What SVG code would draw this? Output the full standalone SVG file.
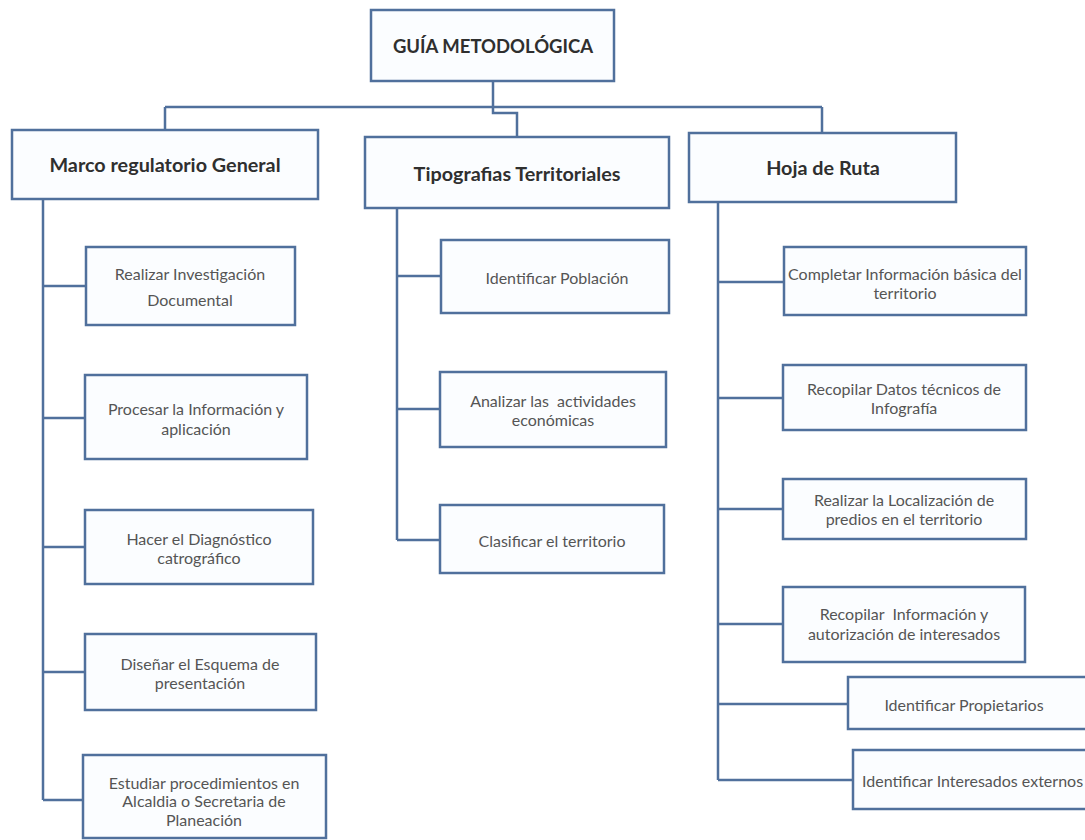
<svg xmlns="http://www.w3.org/2000/svg" width="1085" height="840" viewBox="0 0 1085 840">
  <style>
    .box { fill: #fbfdff; stroke: #50709c; stroke-width: 2.5; }
    .wire { fill: none; stroke: #50709c; stroke-width: 2.5; }
    .head { font-family: Lato, "Liberation Sans", sans-serif; font-weight: bold; font-size: 19.8px; fill: #2f2f2f; text-anchor: middle; dominant-baseline: central; }
    .title { font-size: 18.5px; }
    .item { font-family: Lato, "Liberation Sans", sans-serif; font-size: 16px; fill: #555; text-anchor: middle; dominant-baseline: central; white-space: pre; }
  </style>
  <rect width="1085" height="840" fill="#ffffff"/>

  <!-- connectors -->
  <g id="connectors" class="wire">
    <path d="M493 81 V107 M165 107 H822 M165 107 V130 M822 107 V133"/>
    <path d="M493 107 V113 H517 V137"/>
    <!-- Marco regulatorio General branch -->
    <path d="M43 199 V800 M43 286 H86 M43 418 H85 M43 547 H85 M43 672 H85 M43 800 H83"/>
    <!-- Tipografias Territoriales branch -->
    <path d="M397 208 V540 M397 276 H441 M397 409 H440 M397 540 H440"/>
    <!-- Hoja de Ruta branch -->
    <path d="M718 202 V780 M718 282 H784 M718 398 H783 M718 509 H783 M718 624 H783 M718 704 H848 M718 780 H853"/>
  </g>

  <g id="guia">
    <rect class="box" x="371" y="10" width="243" height="71"/>
    <text class="head title" x="493" y="46">GUÍA METODOLÓGICA</text>
  </g>

  <g id="marco">
    <rect class="box" x="12" y="130" width="306" height="69"/>
    <text class="head" x="165" y="164">Marco regulatorio General</text>
  </g>
  <g id="tipografias">
    <rect class="box" x="365" y="137" width="304" height="71"/>
    <text class="head" x="517" y="173">Tipografias Territoriales</text>
  </g>
  <g id="hoja">
    <rect class="box" x="689" y="133" width="267" height="69"/>
    <text class="head" x="823" y="167">Hoja de Ruta</text>
  </g>

  <!-- Marco regulatorio General items -->
  <g id="m1">
    <rect class="box" x="86" y="247" width="209" height="78"/>
    <text class="item" x="190" y="273">Realizar Investigación</text>
    <text class="item" x="190" y="299">Documental</text>
  </g>
  <g id="m2">
    <rect class="box" x="85" y="375" width="222" height="84"/>
    <text class="item" x="196" y="408">Procesar la Información y</text>
    <text class="item" x="196" y="428">aplicación</text>
  </g>
  <g id="m3">
    <rect class="box" x="85" y="510" width="228" height="74"/>
    <text class="item" x="199" y="538">Hacer el Diagnóstico</text>
    <text class="item" x="199" y="557">catrográfico</text>
  </g>
  <g id="m4">
    <rect class="box" x="85" y="634" width="231" height="76"/>
    <text class="item" x="200" y="663">Diseñar el Esquema de</text>
    <text class="item" x="200" y="682">presentación</text>
  </g>
  <g id="m5">
    <rect class="box" x="83" y="755" width="243" height="83"/>
    <text class="item" x="204" y="782">Estudiar procedimientos en</text>
    <text class="item" x="204" y="800">Alcaldia o Secretaria de</text>
    <text class="item" x="204" y="819">Planeación</text>
  </g>

  <!-- Tipografias Territoriales items -->
  <g id="t1">
    <rect class="box" x="441" y="240" width="228" height="73"/>
    <text class="item" x="557" y="277">Identificar Población</text>
  </g>
  <g id="t2">
    <rect class="box" x="440" y="372" width="226" height="75"/>
    <text class="item" x="553" y="400">Analizar las  actividades</text>
    <text class="item" x="553" y="419">económicas</text>
  </g>
  <g id="t3">
    <rect class="box" x="440" y="505" width="224" height="68"/>
    <text class="item" x="552" y="540">Clasificar el territorio</text>
  </g>

  <!-- Hoja de Ruta items -->
  <g id="h1">
    <rect class="box" x="784" y="247" width="242" height="68"/>
    <text class="item" x="905" y="273">Completar Información básica del</text>
    <text class="item" x="905" y="292">territorio</text>
  </g>
  <g id="h2">
    <rect class="box" x="783" y="365" width="243" height="65"/>
    <text class="item" x="904" y="388">Recopilar Datos técnicos de</text>
    <text class="item" x="904" y="407">Infografía</text>
  </g>
  <g id="h3">
    <rect class="box" x="783" y="479" width="243" height="60"/>
    <text class="item" x="904" y="499">Realizar la Localización de</text>
    <text class="item" x="904" y="518">predios en el territorio</text>
  </g>
  <g id="h4">
    <rect class="box" x="783" y="587" width="242" height="75"/>
    <text class="item" x="904" y="613">Recopilar  Información y</text>
    <text class="item" x="904" y="633">autorización de interesados</text>
  </g>
  <g id="h5">
    <rect class="box" x="848" y="677" width="250" height="52"/>
    <text class="item" x="964" y="704">Identificar Propietarios</text>
  </g>
  <g id="h6">
    <rect class="box" x="853" y="750" width="250" height="59"/>
    <text class="item" x="862" y="780" style="text-anchor:start">Identificar Interesados externos</text>
  </g>
</svg>
